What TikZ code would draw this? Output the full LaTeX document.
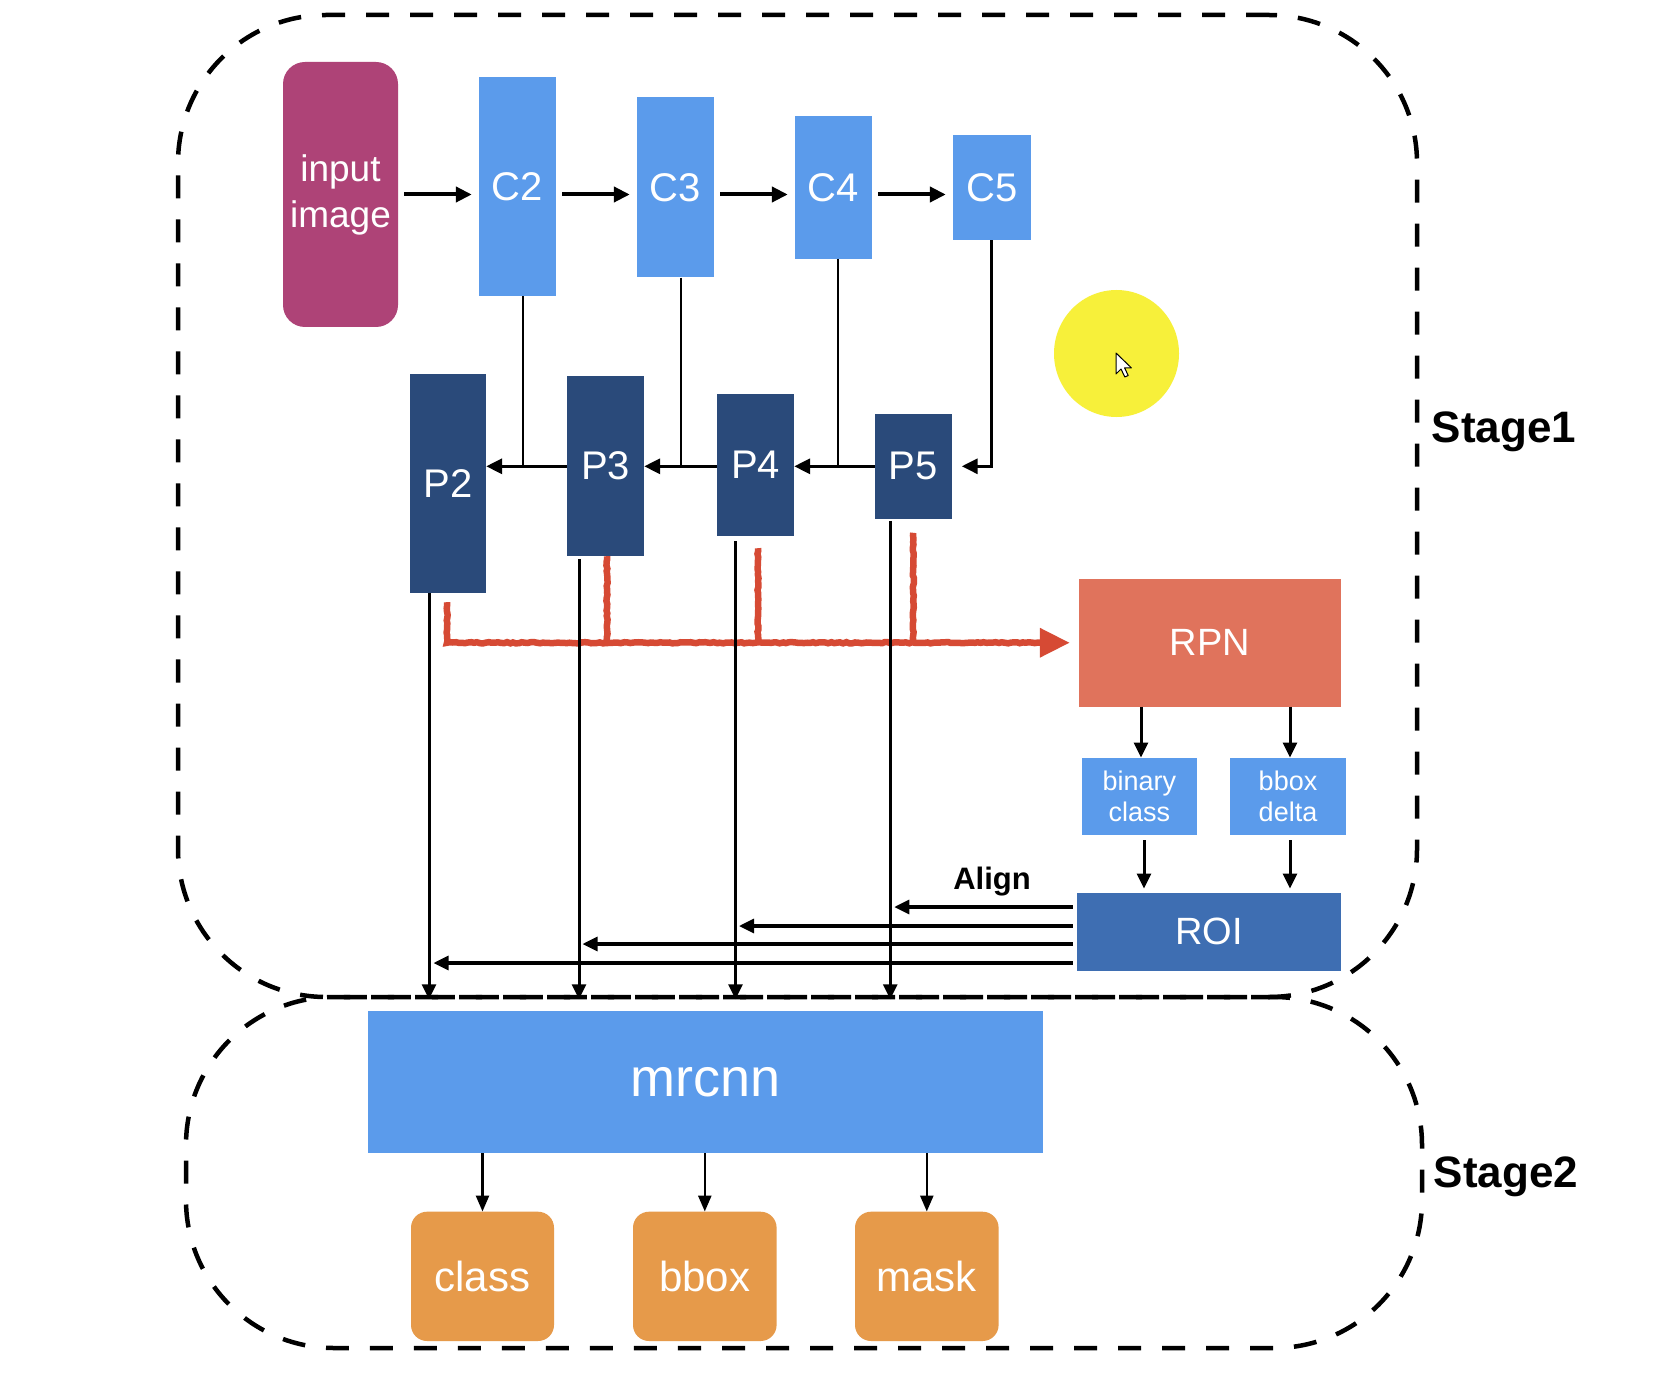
\documentclass[tikz,border=0pt]{standalone}
\usepackage{fontspec}
\setmainfont{Liberation Sans}
\usetikzlibrary{arrows.meta,decorations.pathmorphing,calc}
\definecolor{inputc}{RGB}{174,67,119}
\definecolor{cblue}{RGB}{91,155,235}
\definecolor{pnavy}{RGB}{42,74,122}
\definecolor{rpnc}{RGB}{224,115,92}
\definecolor{roic}{RGB}{62,110,178}
\definecolor{orangec}{RGB}{230,154,74}
\definecolor{redc}{RGB}{214,74,52}
\definecolor{yellowc}{RGB}{247,240,58}
\tikzset{
  box/.style={rectangle, inner sep=0pt, text=white, align=center},
  cbox/.style={box, fill=cblue, font=\fontsize{40pt}{48pt}\selectfont},
  pbox/.style={box, fill=pnavy, font=\fontsize{40pt}{48pt}\selectfont},
  inbox/.style={box, fill=inputc, rounded corners=22pt, font=\fontsize{37pt}{46pt}\selectfont},
  rpnbox/.style={box, fill=rpnc, font=\fontsize{38pt}{46pt}\selectfont},
  roibox/.style={box, fill=roic, font=\fontsize{38pt}{46pt}\selectfont},
  smallbox/.style={box, fill=cblue, font=\fontsize{27pt}{31pt}\selectfont},
  bigbox/.style={box, fill=cblue, font=\fontsize{54pt}{60pt}\selectfont},
  outbox/.style={box, fill=orangec, rounded corners=16pt, font=\fontsize{42pt}{50pt}\selectfont},
  stagebox/.style={rectangle, draw=black, line width=4.5pt, dash pattern=on 23pt off 21pt, rounded corners=148pt, inner sep=0pt},
  stagelabel/.style={font=\bfseries\fontsize{44pt}{52pt}\selectfont, text=black, inner sep=0pt},
  arr/.style={draw=black, line width=3pt, -{Triangle[length=15pt,width=14pt]}},
  thickarr/.style={draw=black, line width=4pt, -{Triangle[length=16pt,width=15pt]}},
  plainline/.style={draw=black, line width=2.8pt},
  redline/.style={draw=redc, line width=6.5pt, decorate, decoration={random steps, segment length=3pt, amplitude=0.6pt}},
  redarrow/.style={draw=redc, line width=6.5pt, -{Triangle[length=30pt,width=28pt]}}
}
\begin{document}
\begin{tikzpicture}[x=1pt,y=-1pt]
\pgfmathsetseed{7}
\useasboundingbox (0,0) rectangle (1680,1396);
\fill[white] (0,0) rectangle (1680,1396);

% stage frames
\node[stagebox, minimum width=1239pt, minimum height=982pt] (S1) at (797.5,506) {};
\node[stagebox, minimum width=1236pt, minimum height=351pt] (S2) at (804,1172.5) {};
\node[stagelabel] (st1) at (1504,432) {Stage1};
\node[stagelabel] (st2) at (1506,1177) {Stage2};

% yellow highlight and cursor
\fill[yellowc] (1116.5,353.5) ellipse [x radius=62.5, y radius=63.5];
\draw[fill=white, line width=1pt, line join=round] (1116,353) -- ++(0,21) -- ++(5,-5) -- ++(3.8,8) -- ++(3.4,-1.5) -- ++(-3.6,-7.6) -- ++(6.8,0) -- cycle;

% backbone
\node[inbox, minimum width=115pt, minimum height=265pt] (in) at (340.5,194.5) {input\\image};
\node[cbox, minimum width=77pt, minimum height=218.5pt] (C2) at (517.5,186.75) {C2};
\node[cbox, minimum width=77pt, minimum height=180.5pt] (C3) at (675.5,187.25) {C3};
\node[cbox, minimum width=77pt, minimum height=142.6pt] (C4) at (833.5,187.3) {C4};
\node[cbox, minimum width=78pt, minimum height=105.4pt] (C5) at (992,187.3) {C5};

\node[pbox, minimum width=76pt, minimum height=219pt] (P2) at (448,483.5) {P2};
\node[pbox, minimum width=77pt, minimum height=180pt] (P3) at (605.5,466) {P3};
\node[pbox, minimum width=77pt, minimum height=142.4pt] (P4) at (755.5,464.8) {P4};
\node[pbox, minimum width=76.5pt, minimum height=104.6pt] (P5) at (913.25,466.3) {P5};

\node[rpnbox, minimum width=262pt, minimum height=127.5pt] (RPN) at (1210,642.75) {RPN};
\node[smallbox, minimum width=115.4pt, minimum height=77.3pt] (bin) at (1139.3,796.35) {binary\\class};
\node[smallbox, minimum width=116pt, minimum height=77.3pt] (del) at (1288,796.35) {bbox\\delta};
\node[roibox, minimum width=264pt, minimum height=78pt] (ROI) at (1209,931.7) {ROI};

\node[bigbox, minimum width=675.2pt, minimum height=142.3pt] (mr) at (705.2,1081.85) {mrcnn};
\node[outbox, minimum width=143pt, minimum height=129.3pt] (cls) at (482.5,1276.35) {class};
\node[outbox, minimum width=143.6pt, minimum height=129.3pt] (bbx) at (704.8,1276.35) {bbox};
\node[outbox, minimum width=143.6pt, minimum height=129.3pt] (msk) at (926.8,1276.35) {mask};

\node[font=\bfseries\fontsize{31pt}{36pt}\selectfont, inner sep=0pt] (align) at (992,882) {Align};

% top row arrows
\draw[thickarr, shorten <=6pt, shorten >=7pt] (in.east) -- (C2.west |- in.east);
\draw[thickarr, shorten <=6pt, shorten >=7pt] (C2.east |- in.east) -- (C3.west |- in.east);
\draw[thickarr, shorten <=6pt, shorten >=7pt] (C3.east |- in.east) -- (C4.west |- in.east);
\draw[thickarr, shorten <=6pt, shorten >=7pt] (C4.east |- in.east) -- (C5.west |- in.east);

% lateral connections
\coordinate (c2) at ([xshift=5.5pt]C2.south);
\coordinate (c3) at ([xshift=5.5pt]C3.south);
\coordinate (c4) at ([xshift=4.5pt]C4.south);
\coordinate (c5) at ([xshift=-1pt]C5.south);
\draw[plainline] (c2) -- (c2 |- P5.west);
\draw[plainline] (c3) -- (c3 |- P5.west);
\draw[plainline] (c4) -- (c4 |- P5.west);
\draw[thickarr, line width=3pt, shorten >=10pt] (c5) -- (c5 |- P5.east) -- (P5.east);
\draw[thickarr, line width=3.5pt] (P5.west) -- (P4.east |- P5.west);
\draw[thickarr, line width=3.5pt] (P4.west |- P5.west) -- (P3.east |- P5.west);
\draw[thickarr, line width=3.5pt] (P3.west |- P5.west) -- (P2.east |- P5.west);

% red feature path to RPN
\coordinate (r2) at ([xshift=-1pt,yshift=-9pt]P2.south);
\coordinate (r3) at ([xshift=1.5pt]P3.south);
\coordinate (r4) at ([xshift=2.5pt,yshift=-12pt]P4.south);
\coordinate (r5) at ([yshift=-14pt]P5.south);
\coordinate (rt) at ([xshift=-38pt]RPN.west);
\draw[redline] (r2) -- (r2 |- RPN.west) -- (rt);
\draw[redline] (r3) -- (r3 |- RPN.west);
\draw[redline] (r4) -- (r4 |- RPN.west);
\draw[redline] (r5) -- (r5 |- RPN.west);
\draw[redarrow, shorten >=9pt] (rt) -- (RPN.west);

% RPN heads
\draw[arr] (RPN.south -| bin.north) ++(1.7pt,0) coordinate (a1) -- (a1 |- bin.north);
\draw[arr] (RPN.south -| del.north) ++(2pt,0) coordinate (a2) -- (a2 |- del.north);
\draw[arr, shorten <=5pt, shorten >=4pt] (bin.south) ++(4.7pt,0) coordinate (a3) -- (a3 |- ROI.north);
\draw[arr, shorten <=5pt, shorten >=4pt] (del.south) ++(2pt,0) coordinate (a4) -- (a4 |- ROI.north);

% pyramid levels to mrcnn
\coordinate (l2) at ([xshift=-19pt]P2.south);
\coordinate (l3) at ([xshift=-26.5pt]P3.south);
\coordinate (l4) at ([xshift=-20pt]P4.south);
\coordinate (l5) at ([xshift=-23pt]P5.south);
\draw[arr, line width=3pt] (l2) -- (l2 |- S1.south);
\draw[arr, line width=3pt, shorten <=3pt] (l3) -- (l3 |- S1.south);
\draw[arr, line width=3pt, shorten <=5pt] (l4) -- (l4 |- S1.south);
\draw[arr, line width=3pt, shorten <=2pt] (l5) -- (l5 |- S1.south);

% ROI align arrows
\coordinate (ra) at ([yshift=24.7pt]ROI.west);
\coordinate (rb) at ([yshift=5.7pt]ROI.west);
\coordinate (rc) at ([yshift=-12.3pt]ROI.west);
\coordinate (rd) at ([yshift=-31.3pt]ROI.west);
\coordinate (t5) at ([xshift=4pt]l5);
\coordinate (t4) at ([xshift=3.5pt]l4);
\coordinate (t3) at ([xshift=3.5pt]l3);
\coordinate (t2) at ([xshift=4.5pt]l2);
\draw[arr, line width=3.2pt, shorten <=4pt] (ra) -- (t5 |- ra);
\draw[arr, line width=3.2pt, shorten <=4pt] (rb) -- (t4 |- rb);
\draw[arr, line width=3.2pt, shorten <=4pt] (rc) -- (t3 |- rc);
\draw[arr, line width=3.2pt, shorten <=4pt] (rd) -- (t2 |- rd);

% mrcnn heads
\draw[arr, line width=2.6pt, -{Triangle[length=16pt,width=13pt]}] (mr.south -| cls.north) -- (cls.north);
\draw[arr, line width=2.6pt, -{Triangle[length=16pt,width=13pt]}] (mr.south -| bbx.north) -- (bbx.north);
\draw[arr, line width=2.6pt, -{Triangle[length=16pt,width=13pt]}] (mr.south -| msk.north) -- (msk.north);
\end{tikzpicture}
\end{document}
